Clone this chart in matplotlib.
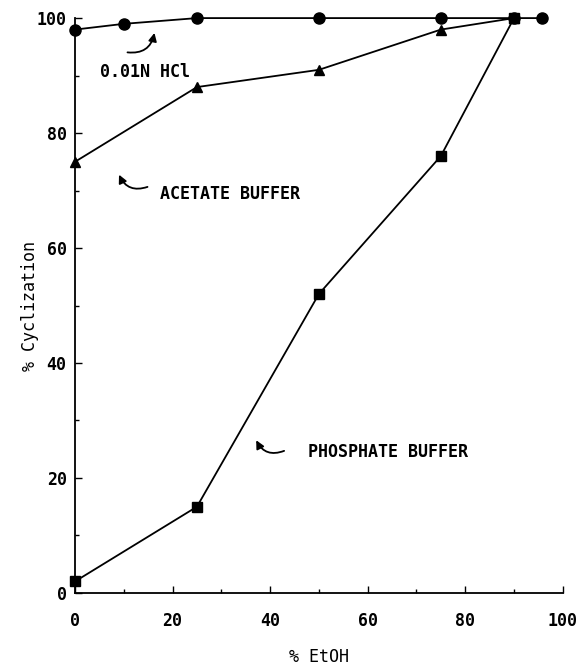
import matplotlib
matplotlib.use('Agg')
import matplotlib.pyplot as plt
from matplotlib.ticker import MultipleLocator

# % cyclization vs % EtOH
hcl_x = [0, 10, 25, 50, 75, 90, 95.7]
hcl_y = [98, 99, 100, 100, 100, 100, 100]
acetate_x = [0, 25, 50, 75, 90]
acetate_y = [75, 88, 91, 98, 100]
phosphate_x = [0, 25, 50, 75, 90]
phosphate_y = [2, 15, 52, 76, 100]

plt.rcParams['font.family'] = 'DejaVu Sans Mono'
plt.rcParams['font.weight'] = 'bold'
fs = 12

fig = plt.figure(figsize=(5.79, 6.70), dpi=100)
ax = fig.add_axes([0.1295, 0.115, 0.8425, 0.858])

ax.plot(hcl_x, hcl_y, '-o', color='black', lw=1.3, ms=8, clip_on=False)
ax.plot(acetate_x, acetate_y, '-^', color='black', lw=1.3, ms=7, clip_on=False)
ax.plot(phosphate_x, phosphate_y, '-s', color='black', lw=1.3, ms=7, clip_on=False)

ax.set_xlim(0, 100)
ax.set_ylim(0, 100)
ax.xaxis.set_major_locator(MultipleLocator(20))
ax.yaxis.set_major_locator(MultipleLocator(20))
ax.xaxis.set_minor_locator(MultipleLocator(10))
ax.yaxis.set_minor_locator(MultipleLocator(10))
ax.tick_params(which='major', direction='in', length=5, width=1, labelsize=fs, pad=14)
ax.tick_params(which='minor', direction='in', length=3, width=1)
ax.tick_params(axis='y', pad=6)
for s in ['top', 'right']:
    ax.spines[s].set_visible(False)
for s in ['left', 'bottom']:
    ax.spines[s].set_linewidth(1.3)

ax.set_xlabel('% EtOH', fontsize=fs, labelpad=13)
ax.set_ylabel('% Cyclization', fontsize=fs, labelpad=-2)

# labels with curved arrows
arr = dict(arrowstyle='-|>', color='black', lw=1.3, mutation_scale=12)
ax.annotate('', xy=(16.4, 97.9), xytext=(10.2, 94.1),
            arrowprops=dict(arr, connectionstyle='arc3,rad=0.5'))
ax.text(14.3, 90.6, '0.01N HCl', fontsize=fs, ha='center', va='center')

ax.annotate('', xy=(8.8, 73.2), xytext=(15.4, 70.8),
            arrowprops=dict(arr, connectionstyle='arc3,rad=-0.5'))
ax.text(17.4, 69.4, 'ACETATE BUFFER', fontsize=fs, ha='left', va='center')

ax.annotate('', xy=(36.9, 27.0), xytext=(43.4, 24.9),
            arrowprops=dict(arr, connectionstyle='arc3,rad=-0.5'))
ax.text(47.7, 24.5, 'PHOSPHATE BUFFER', fontsize=fs, ha='left', va='center')

fig.savefig('out.png', dpi=100)
